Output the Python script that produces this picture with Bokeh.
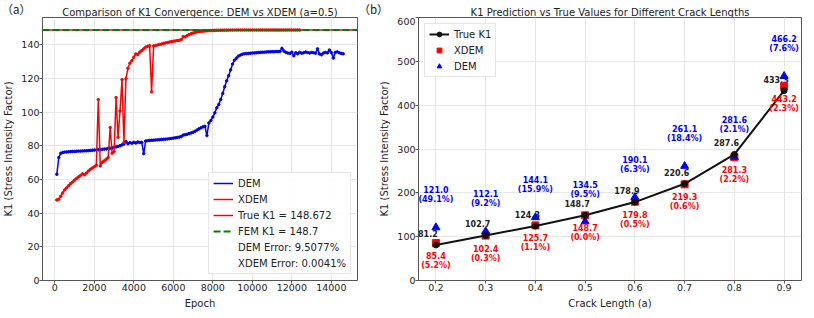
from bokeh.plotting import figure
from bokeh.layouts import row, column
from bokeh.models import (ColumnDataSource, Legend, LegendItem,
                          FixedTicker, Range1d)
from bokeh.core.properties import value
from bokeh.embed import file_html
from bokeh.resources import INLINE

FONT = "DejaVu Sans"
CJK = "Noto Sans CJK SC"

# ---------------- data: panel (a) ----------------
epochs_dem = list(range(100, 14700, 100))
dem_k1 = [
    63.0, 73.0, 75.5, 76.0, 76.2, 76.3, 76.4, 76.5, 76.6, 76.6,
    76.7, 76.8, 76.8, 76.9, 77.0, 77.0, 77.1, 77.2, 77.3, 77.4,
    77.5, 77.6, 77.7, 77.8, 78.0, 78.1, 78.3, 78.5, 78.7, 79.0,
    79.3, 79.6, 80.0, 80.5, 81.0, 82.5, 81.2, 81.8, 81.5, 82.0,
    81.6, 82.2, 81.9, 82.0, 75.3, 82.8, 83.0, 83.1, 83.2, 83.3,
    83.4, 83.5, 83.6, 83.7, 83.8, 83.9, 84.0, 84.2, 84.3, 84.5,
    84.7, 84.9, 85.1, 85.4, 86.3, 86.5, 86.8, 87.2, 87.6, 88.0,
    88.6, 89.3, 90.0, 90.6, 91.2, 91.5, 86.0, 93.5, 95.0, 97.0,
    99.5, 102.5, 104.5, 107.5, 111.0, 115.0, 118.5, 121.5, 125.0, 128.5,
    130.8, 132.0, 133.2, 133.8, 134.3, 134.6, 134.7, 134.8, 134.9, 135.0,
    135.1, 135.2, 135.3, 135.4, 135.5, 135.5, 135.6, 135.7, 135.7, 135.8,
    135.8, 135.9, 135.9, 136.0, 137.8, 136.2, 135.4, 135.0, 134.8, 135.5,
    133.4, 135.2, 134.6, 135.4, 134.9, 135.2, 135.6, 135.3, 135.0, 135.4,
    135.2, 134.9, 137.5, 134.5, 134.0, 135.0, 135.4, 135.1, 136.8, 135.3,
    132.0, 135.4, 135.7, 135.2, 134.8, 134.54,
]
epochs_xdem = list(range(100, 12500, 100))
xdem_k1 = [
    47.8, 48.2, 50.0, 52.0, 53.8, 55.0, 56.3, 57.5, 58.5, 59.6,
    60.6, 61.5, 62.3, 63.3, 62.8, 63.8, 65.0, 66.0, 66.8, 67.5,
    68.4, 107.4, 68.0, 70.2, 71.0, 72.0, 73.0, 90.8, 75.5, 76.5,
    108.6, 85.0, 100.6, 119.2, 82.0, 119.8, 126.0, 129.0, 130.5, 132.5,
    134.5, 134.0, 135.5, 136.5, 137.5, 138.5, 139.0, 139.4, 112.0, 139.2,
    139.5, 139.8, 140.1, 140.4, 140.7, 141.0, 141.2, 141.5, 141.8, 142.0,
    142.2, 142.4, 142.6, 143.0, 144.8, 144.6, 145.4, 146.0, 146.5, 146.9,
    147.2, 147.5, 147.7, 147.9, 148.0, 148.1, 148.2, 148.3, 148.35, 148.4,
    148.45, 148.5, 148.5, 148.55, 148.55, 148.6, 148.6, 148.6, 148.62, 148.62,
    148.63, 148.63, 148.64, 148.64, 148.64, 148.65, 148.65, 148.65, 148.65, 148.66,
    148.66, 148.66, 148.66, 148.66, 148.66, 148.66, 148.66, 148.66, 148.66, 148.66,
    148.66, 148.66, 148.66, 148.66, 148.66, 148.666, 148.666, 148.666, 148.666, 148.666,
    148.666, 148.666, 148.666, 148.666,
]
true_k1 = 148.672
fem_k1 = 148.7
dem_error = "9.5077%"
xdem_error = "0.0041%"
left_xticks = [0, 2000, 4000, 6000, 8000, 10000, 12000, 14000]
left_yticks = [0, 20, 40, 60, 80, 100, 120, 140]
title_a = "Comparison of K1 Convergence: DEM vs XDEM (a=0.5)"

# ---------------- data: panel (b) ----------------
crack = [0.2, 0.3, 0.4, 0.5, 0.6, 0.7, 0.8, 0.9]
true_vals = [81.2, 102.7, 124.3, 148.7, 178.9, 220.6, 287.6, 433.3]
xdem_vals = [85.4, 102.4, 125.7, 148.7, 179.8, 219.3, 281.3, 443.2]
dem_vals = [121.0, 112.1, 144.1, 134.5, 190.1, 261.1, 281.6, 466.2]
xdem_err = [5.2, 0.3, 1.1, 0.0, 0.5, 0.6, 2.2, 2.3]
dem_err = [49.1, 9.2, 15.9, 9.5, 6.3, 18.4, 2.1, 7.6]
right_yticks = [0, 100, 200, 300, 400, 500, 600]
title_b = "K1 Prediction vs True Values for Different Crack Lengths"
panel_labels = ["（a）", "（b）"]

# ---------------- layout constants ----------------
HEAD = 17
FH = 264
BOTTOM = 30
H = FH + BOTTOM
W1, L1, R1 = 360, 42, 3
W2, L2, R2 = 454, 58, 13
FW1 = W1 - L1 - R1
FW2 = W2 - L2 - R2


def style(p, xticks, yticks):
    p.outline_line_color = "#555555"
    p.outline_line_width = 1
    p.xaxis.ticker = FixedTicker(ticks=xticks)
    p.yaxis.ticker = FixedTicker(ticks=yticks)
    for ax in p.xaxis + p.yaxis:
        ax.axis_line_color = None
        ax.major_tick_line_color = "#555555"
        ax.major_tick_out = 3
        ax.major_tick_in = 0
        ax.minor_tick_line_color = None
        ax.major_label_text_font = FONT
        ax.major_label_text_font_size = "9.5px"
        ax.major_label_text_color = "#222222"
        ax.major_label_standoff = 0
        ax.axis_label_text_font = FONT
        ax.axis_label_text_font_size = "10px"
        ax.axis_label_text_font_style = "normal"
        ax.axis_label_text_color = "#222222"
        ax.axis_label_standoff = 4
    p.grid.grid_line_color = "#e6e6e6"
    p.grid.grid_line_width = 1


# ---------------- header (titles and panel letters) ----------------
head = figure(width=W1 + W2, height=HEAD, x_range=Range1d(0, W1 + W2),
              y_range=Range1d(0, HEAD), min_border=0, title_location=None,
              x_axis_location=None, y_axis_location=None,
              output_backend="svg", toolbar_location=None)
head.outline_line_color = None
head.grid.visible = False
head.text(x=[L1 + FW1 / 2, W1 + L2 + FW2 / 2], y=[5, 5], text=[title_a, title_b],
          text_font=value(FONT), text_font_size="10px", text_color="#222222",
          text_align="center", text_baseline="alphabetic")
head.text(x=[1, W1 - 2], y=[HEAD / 2, HEAD / 2], text=panel_labels,
          text_font=value(CJK), text_font_size="11.5px", text_color="#222222",
          text_align="left", text_baseline="middle")

# ---------------- panel (a) ----------------
p1 = figure(width=W1, height=H, title_location=None,
            min_border_left=L1, min_border_right=R1,
            min_border_top=0, min_border_bottom=BOTTOM,
            x_range=Range1d(-625, 15325), y_range=Range1d(0, 156.1),
            output_backend="svg", toolbar_location=None)
style(p1, left_xticks, left_yticks)
p1.xaxis.axis_label = "Epoch"
p1.yaxis.axis_label = "K1 (Stress Intensity Factor)"

dem_line = p1.line(epochs_dem, dem_k1, line_color="blue", line_width=1.5)
p1.scatter(epochs_dem, dem_k1, size=2.5, color="blue")
xdem_line = p1.line(epochs_xdem, xdem_k1, line_color="red", line_width=1.5)
p1.scatter(epochs_xdem, xdem_k1, size=2.5, color="red")
xs_full = [p1.x_range.start, p1.x_range.end]
true_line = p1.line(xs_full, [true_k1, true_k1], line_color="red", line_width=1.5)
fem_line = p1.line(xs_full, [fem_k1, fem_k1], line_color="green", line_width=2,
                   line_dash="7 3")
blank1 = p1.line(x=[], y=[], line_alpha=0)
blank2 = p1.line(x=[], y=[], line_alpha=0)

leg1 = Legend(items=[
    LegendItem(label="DEM", renderers=[dem_line]),
    LegendItem(label="XDEM", renderers=[xdem_line]),
    LegendItem(label=f"True K1 = {true_k1}", renderers=[true_line]),
    LegendItem(label=f"FEM K1 = {fem_k1}", renderers=[fem_line]),
    LegendItem(label=f"DEM Error: {dem_error}", renderers=[blank1]),
    LegendItem(label=f"XDEM Error: {xdem_error}", renderers=[blank2]),
], location="bottom_right")

# ---------------- panel (b) ----------------
p2 = figure(width=W2, height=H, title_location=None,
            min_border_left=L2, min_border_right=R2,
            min_border_top=0, min_border_bottom=BOTTOM,
            x_range=Range1d(0.165, 0.935), y_range=Range1d(0, 600),
            output_backend="svg", toolbar_location=None)
style(p2, crack, right_yticks)
p2.xaxis.axis_label = "Crack Length (a)"
p2.yaxis.axis_label = "K1 (Stress Intensity Factor)"

src = ColumnDataSource(dict(
    x=crack, true=true_vals, xdem=xdem_vals, dem=dem_vals,
    true_lbl=[f"{v:.1f}" for v in true_vals],
    xdem_lbl=[f"{v:.1f}\n({e:.1f}%)" for v, e in zip(xdem_vals, xdem_err)],
    dem_lbl=[f"{v:.1f}\n({e:.1f}%)" for v, e in zip(dem_vals, dem_err)],
))

p2.text(x="x", y="true", text="true_lbl", source=src, x_offset=-8, y_offset=-8,
        text_font=value(FONT), text_font_size="8px", text_font_style="bold",
        text_color="#222222", text_align="center", text_baseline="bottom")
xdem_r = p2.scatter(x="x", y="xdem", source=src, marker="square", size=7, color="red")
dem_r = p2.scatter(x="x", y="dem", source=src, marker="triangle", size=8, color="blue")
true_l = p2.line(x="x", y="true", source=src, line_color="#111111", line_width=2)
true_p = p2.scatter(x="x", y="true", source=src, size=6, color="#111111")
p2.text(x="x", y="xdem", text="xdem_lbl", source=src, y_offset=9,
        text_font=value(FONT), text_font_size="8px", text_font_style="bold",
        text_color="red", text_align="center", text_baseline="top",
        text_line_height=1.0)
p2.text(x="x", y="dem", text="dem_lbl", source=src, y_offset=-23,
        text_font=value(FONT), text_font_size="8px", text_font_style="bold",
        text_color="blue", text_align="center", text_baseline="bottom",
        text_line_height=1.0)

leg2 = Legend(items=[
    LegendItem(label="True K1", renderers=[true_l, true_p]),
    LegendItem(label="XDEM", renderers=[xdem_r]),
    LegendItem(label="DEM", renderers=[dem_r]),
], location="top_left")

for lg in (leg1, leg2):
    lg.label_text_font = FONT
    lg.label_text_font_size = "10px"
    lg.label_text_color = "#222222"
    lg.glyph_width = 20
    lg.glyph_height = 12
    lg.label_height = 12
    lg.label_standoff = 5
    lg.spacing = 4
    lg.padding = 4
    lg.margin = 6
    lg.border_line_color = "#cccccc"
    lg.border_line_width = 1
    lg.background_fill_alpha = 0.85
p1.add_layout(leg1)
p2.add_layout(leg2)

layout = column(head, row(p1, p2, spacing=0), spacing=0)
open("out.html", "w").write(file_html(layout, INLINE))
